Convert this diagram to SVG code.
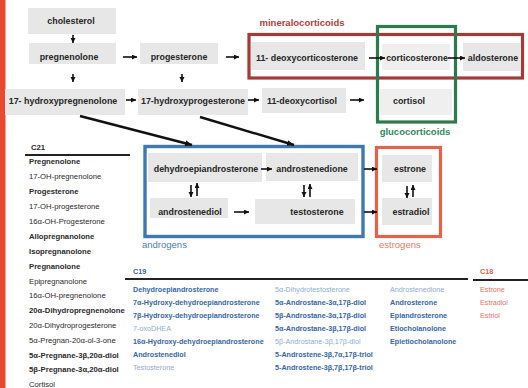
<svg xmlns="http://www.w3.org/2000/svg" width="528" height="388" viewBox="0 0 528 388">
<style>
.n{font-family:"Liberation Sans",Arial,sans-serif;font-weight:bold;font-size:8.9px;fill:#262626;text-anchor:middle}
.bx{fill:#e7e7e7}
.bxl{fill:#efefef}
.ln{stroke:#111;stroke-width:1.6;fill:none}
.dg{stroke:#111;stroke-width:2.4;fill:none}
.grp{font-family:"Liberation Sans",Arial,sans-serif;font-weight:bold;font-size:9.5px}
.l{font-family:"Liberation Sans",Arial,sans-serif;font-size:7.7px;fill:#2a2a2a}
.b{font-weight:bold}
.t{font-family:"Liberation Sans",Arial,sans-serif;font-size:7.2px}
.tb{fill:#3566a8;font-weight:bold}
.tl{fill:#8eacd2}
.te{fill:#e8735f}
</style>
<defs>
<marker id="ah" markerUnits="userSpaceOnUse" markerWidth="8" markerHeight="7" refX="7" refY="3.5" orient="auto">
<path d="M0,0.5 L7,3.5 L0,6.5 z" fill="#111"/>
</marker>
<marker id="ahs" markerUnits="userSpaceOnUse" markerWidth="6" markerHeight="6" refX="5" refY="2.5" orient="auto">
<path d="M0,0 L5,2.5 L0,5 z" fill="#111"/>
</marker>
</defs>
<rect x="0" y="0" width="528" height="388" fill="#ffffff"/>
<rect x="0" y="0" width="5.5" height="388" fill="#e8492f"/>

<!-- group frames -->
<g id="mineralocorticoids">
<rect x="249" y="34.5" width="273.5" height="43.5" fill="none" stroke="#a53a36" stroke-width="3.2"/>
<text class="grp" x="302" y="26" text-anchor="middle" fill="#b0423a">mineralocorticoids</text>
</g>

<!-- nodes -->
<g id="cholesterol"><rect class="bx" x="28" y="8" width="88" height="26"/><text class="n" x="71" y="24">cholesterol</text></g>
<g id="pregnenolone"><rect class="bx" x="29" y="43" width="87" height="21"/><text class="n" x="69" y="60">pregnenolone</text></g>
<g id="progesterone"><rect class="bx" x="140" y="43" width="78" height="21"/><text class="n" x="179" y="60">progesterone</text></g>
<g id="hydroxypregnenolone"><rect class="bx" x="5" y="89" width="120" height="26"/><text class="n" x="63" y="104">17- hydroxypregnenolone</text></g>
<g id="hydroxyprogesterone"><rect class="bx" x="138" y="89" width="110" height="26"/><text class="n" x="193" y="104">17-hydroxyprogesterone</text></g>
<g id="deoxycortisol"><rect class="bx" x="262" y="88" width="84" height="25"/><text class="n" x="302" y="104">11-deoxycortisol</text></g>
<g id="cortisol"><rect class="bxl" x="380" y="89" width="72" height="26"/><text class="n" x="409" y="104">cortisol</text></g>
<g id="deoxycorticosterone"><rect class="bx" x="251" y="42" width="114" height="28"/><text class="n" x="307" y="61">11- deoxycorticosterone</text></g>
<g id="corticosterone"><rect class="bxl" x="382" y="44" width="68" height="26"/><text class="n" x="417" y="61">corticosterone</text></g>
<g id="aldosterone"><rect class="bx" x="463" y="43" width="57" height="28"/><text class="n" x="493" y="61">aldosterone</text></g>

<g id="glucocorticoids">
<rect x="377.5" y="26.5" width="78" height="95.5" fill="none" stroke="#2b7b4c" stroke-width="3.2"/>
<text class="grp" x="415" y="135" text-anchor="middle" fill="#2f8a5a">glucocorticoids</text>
</g>

<g id="androgens">
<rect x="145" y="146.5" width="218" height="90" fill="none" stroke="#3f79ae" stroke-width="3.4"/>
<text class="grp" x="142" y="248" fill="#4a82b6" style="font-weight:normal">androgens</text>
</g>
<g id="dhea"><rect class="bx" x="148" y="153" width="114" height="29"/><text class="n" x="206" y="172">dehydroepiandrosterone</text></g>
<g id="androstenedione"><rect class="bx" x="266" y="153" width="92" height="28"/><text class="n" x="312" y="172">androstenedione</text></g>
<g id="androstenediol"><rect class="bx" x="150" y="198" width="78" height="20"/><text class="n" x="190" y="215">androstenediol</text></g>
<g id="testosterone"><rect class="bx" x="255" y="199" width="100" height="25"/><text class="n" x="317" y="215">testosterone</text></g>

<g id="estrogens">
<rect x="376.5" y="147.5" width="64" height="89" fill="none" stroke="#e5634d" stroke-width="3.2"/>
<text class="grp" x="379" y="248" fill="#ea7a64" style="font-weight:normal">estrogens</text>
</g>
<g id="estrone"><rect class="bx" x="382" y="155" width="50" height="27"/><text class="n" x="410" y="172">estrone</text></g>
<g id="estradiol"><rect class="bx" x="382" y="198" width="50" height="27"/><text class="n" x="411" y="215">estradiol</text></g>

<!-- connectors -->
<g id="connectors">
<line class="ln" x1="73" y1="35" x2="73" y2="43" marker-end="url(#ahs)"/>
<line class="ln" x1="73" y1="74" x2="73" y2="82" marker-end="url(#ahs)"/>
<line class="ln" x1="182" y1="74" x2="182" y2="82" marker-end="url(#ahs)"/>
<line class="ln" x1="123" y1="57" x2="137" y2="57" marker-end="url(#ahs)"/>
<line class="ln" x1="226" y1="57" x2="239" y2="57" marker-end="url(#ahs)"/>
<line class="ln" x1="126" y1="100" x2="136" y2="100" marker-end="url(#ahs)"/>
<line class="ln" x1="248" y1="100" x2="259" y2="100" marker-end="url(#ahs)"/>
<line class="ln" x1="350" y1="100" x2="364" y2="100" marker-end="url(#ahs)"/>
<line class="ln" x1="369" y1="58" x2="385" y2="58" marker-end="url(#ahs)"/>
<line class="ln" x1="448" y1="58" x2="465" y2="58" marker-end="url(#ahs)"/>
<line class="dg" x1="80" y1="116" x2="192" y2="145" marker-end="url(#ah)"/>
<line class="dg" x1="200" y1="117" x2="294" y2="145" marker-end="url(#ah)"/>
<line class="ln" x1="261" y1="169" x2="272" y2="169" marker-end="url(#ahs)"/>
<line class="ln" x1="234" y1="212" x2="249" y2="212" marker-end="url(#ahs)"/>
<line class="ln" x1="364" y1="169" x2="377" y2="169" marker-end="url(#ahs)"/>
<line class="ln" x1="364" y1="212" x2="377" y2="212" marker-end="url(#ahs)"/>
<line class="ln" x1="191" y1="185" x2="191" y2="197" marker-end="url(#ahs)"/>
<line class="ln" x1="197" y1="196" x2="197" y2="183" marker-end="url(#ahs)"/>
<line class="ln" x1="304" y1="185" x2="304" y2="197" marker-end="url(#ahs)"/>
<line class="ln" x1="310" y1="197" x2="310" y2="184" marker-end="url(#ahs)"/>
<line class="ln" x1="407" y1="186" x2="407" y2="198" marker-end="url(#ahs)"/>
<line class="ln" x1="413" y1="197" x2="413" y2="185" marker-end="url(#ahs)"/>
</g>

<!-- C21 list -->
<g id="c21">
<text class="l b" x="31" y="150">C21</text>
<line x1="25" y1="155" x2="130" y2="155" stroke="#222" stroke-width="1.8"/>
<text class="l b" x="29" y="164">Pregnenolone</text>
<text class="l" x="29" y="179">17-OH-pregnenolone</text>
<text class="l b" x="29" y="194">Progesterone</text>
<text class="l" x="29" y="209">17-OH-progesterone</text>
<text class="l" x="29" y="224">16α-OH-Progesterone</text>
<text class="l b" x="29" y="238.5">Allopregnanolone</text>
<text class="l b" x="29" y="253.5">Isopregnanolone</text>
<text class="l b" x="29" y="268.5">Pregnanolone</text>
<text class="l" x="29" y="283.5">Epipregnanolone</text>
<text class="l" x="29" y="298">16α-OH-pregnenolone</text>
<text class="l b" x="29" y="313">20α-Dihydropregnenolone</text>
<text class="l" x="29" y="328">20α-Dihydroprogesterone</text>
<text class="l" x="29" y="343">5α-Pregnan-20α-ol-3-one</text>
<text class="l b" x="29" y="357.5">5α-Pregnane-3β,20α-diol</text>
<text class="l b" x="29" y="372">5β-Pregnane-3α,20α-diol</text>
<text class="l" x="29" y="387" fill="#3a9a5e">Cortisol</text>
</g>

<!-- C19 / C18 table -->
<g id="c19">
<text class="t b" x="133" y="274" fill="#3b5f8a">C19</text>
<line x1="125" y1="279" x2="468" y2="279" stroke="#222" stroke-width="1.8"/>
<text class="t tb" x="133" y="291.5">Dehydroepiandrosterone</text>
<text class="t tb" x="133" y="304.5">7α-Hydroxy-dehydroepiandrosterone</text>
<text class="t tb" x="133" y="317.5">7β-Hydroxy-dehydroepiandrosterone</text>
<text class="t tl" x="133" y="330.5">7-oxoDHEA</text>
<text class="t tb" x="133" y="344">16α-Hydroxy-dehydroepiandrosterone</text>
<text class="t tb" x="133" y="357">Androstenediol</text>
<text class="t tl" x="133" y="370">Testosterone</text>
<text class="t tl" x="275" y="291.5">5α-Dihydrotestosterone</text>
<text class="t tb" x="275" y="304.5">5α-Androstane-3α,17β-diol</text>
<text class="t tb" x="275" y="317.5">5β-Androstane-3α,17β-diol</text>
<text class="t tb" x="275" y="330.5">5α-Androstane-3β,17β-diol</text>
<text class="t tl" x="275" y="344">5β-Androstane-3β,17β-diol</text>
<text class="t tb" x="275" y="357">5-Androstene-3β,7α,17β-triol</text>
<text class="t tb" x="275" y="370">5-Androstene-3β,7β,17β-triol</text>
<text class="t tl" x="390" y="291.5">Androstenedione</text>
<text class="t tb" x="390" y="304.5">Androsterone</text>
<text class="t tb" x="390" y="317.5">Epiandrosterone</text>
<text class="t tb" x="390" y="330.5">Etiocholanolone</text>
<text class="t tb" x="390" y="344">Epietiocholanolone</text>
</g>
<g id="c18">
<text class="t b" x="480" y="274" fill="#e0604a">C18</text>
<line x1="473" y1="280" x2="528" y2="280" stroke="#222" stroke-width="1.8"/>
<text class="t te" x="480" y="291.5">Estrone</text>
<text class="t te" x="480" y="304.5">Estradiol</text>
<text class="t te" x="480" y="317.5">Estriol</text>
</g>
</svg>
